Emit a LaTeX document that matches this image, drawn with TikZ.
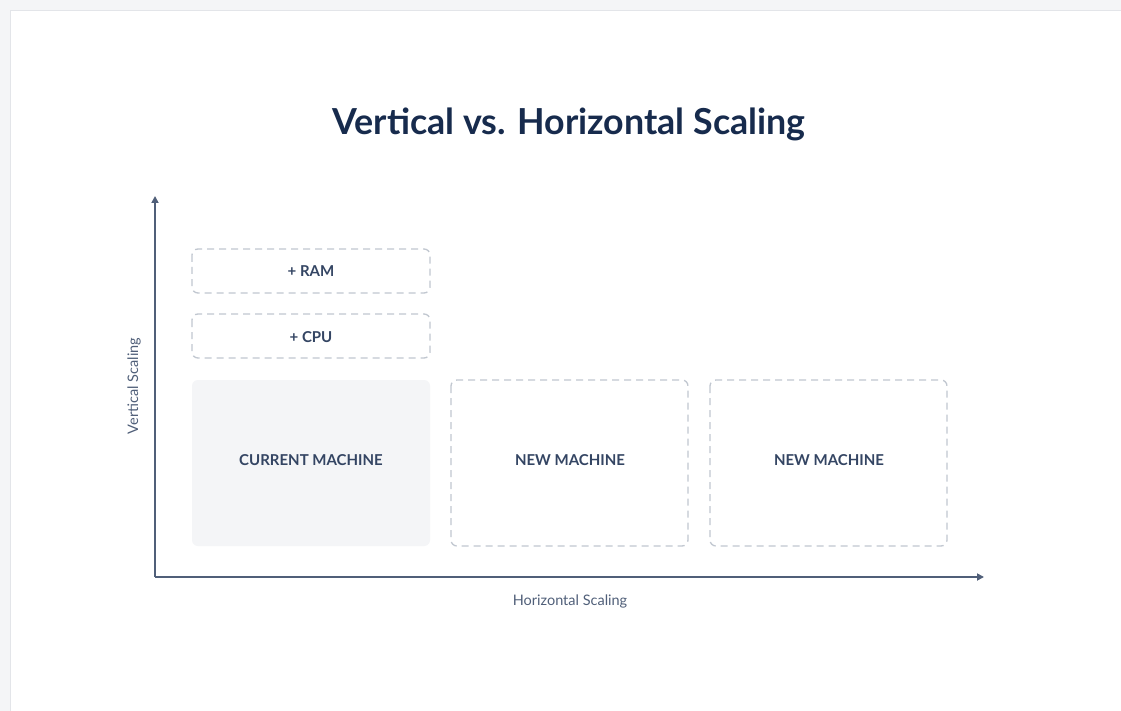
\documentclass[tikz,border=0pt]{standalone}
\usepackage{fontspec}
\setmainfont{Lato}
\usetikzlibrary{arrows.meta}
\definecolor{bgout}{HTML}{F4F5F7}
\definecolor{cardline}{HTML}{E3E5E9}
\definecolor{navy}{HTML}{172B4D}
\definecolor{axis}{HTML}{505F79}
\definecolor{boxtxt}{HTML}{344563}
\definecolor{dashc}{HTML}{C1C7D0}
\definecolor{fillc}{HTML}{F4F5F7}
\definecolor{lbl}{HTML}{505F79}
\tikzset{
  px/.style={x=1pt,y=-1pt},
  dashbox/.style={draw=dashc, line width=1.3pt, dash pattern=on 7pt off 5pt, rounded corners=6pt, fill=white},
  solidbox/.style={fill=fillc, rounded corners=6pt},
  boxlabel/.style={font=\bfseries\fontsize{15}{18}\selectfont, text=boxtxt},
  axislabel/.style={font=\fontsize{14.5}{17}\selectfont, text=lbl},
  axisline/.style={draw=axis, line width=1.7pt, -{Triangle[length=7pt,width=7pt]}}
}
\begin{document}
\begin{tikzpicture}[px]
\useasboundingbox (0,0) rectangle (1121,711);
\fill[bgout] (0,0) rectangle (1121,711);
\fill[white, draw=cardline, line width=1pt] (10.5,10.5) rectangle (1125,715);
% title
\node[font=\fontsize{35.8}{42}\selectfont\bfseries, text=navy] (title) at (569,124) {Vertical vs. Horizontal Scaling};
% axes
\coordinate (origin) at (155,577);
\coordinate (ytip) at (155,196);
\coordinate (xtip) at (984,577);
\draw[axisline] (origin) -- (ytip);
\draw[axisline] (origin) -- (xtip);
% boxes
\draw[dashbox] (192,249) rectangle (430,293);
\node[boxlabel] (ram) at (311,271) {+ RAM};
\draw[dashbox] (192,314) rectangle (430,358);
\node[boxlabel] (cpu) at (311,337) {+ CPU};
\fill[solidbox] (192,380) rectangle (430,546);
\node[boxlabel] (cur) at (311,460) {CURRENT MACHINE};
\draw[dashbox] (451,380) rectangle (688,546);
\node[boxlabel] (new1) at (570,460) {NEW MACHINE};
\draw[dashbox] (710,380) rectangle (947,546);
\node[boxlabel] (new2) at (829,460) {NEW MACHINE};
% axis labels
\node[axislabel, rotate=90] (vlab) at (134,386) {Vertical Scaling};
\node[axislabel] (hlab) at (570,601) {Horizontal Scaling};
\end{tikzpicture}
\end{document}
